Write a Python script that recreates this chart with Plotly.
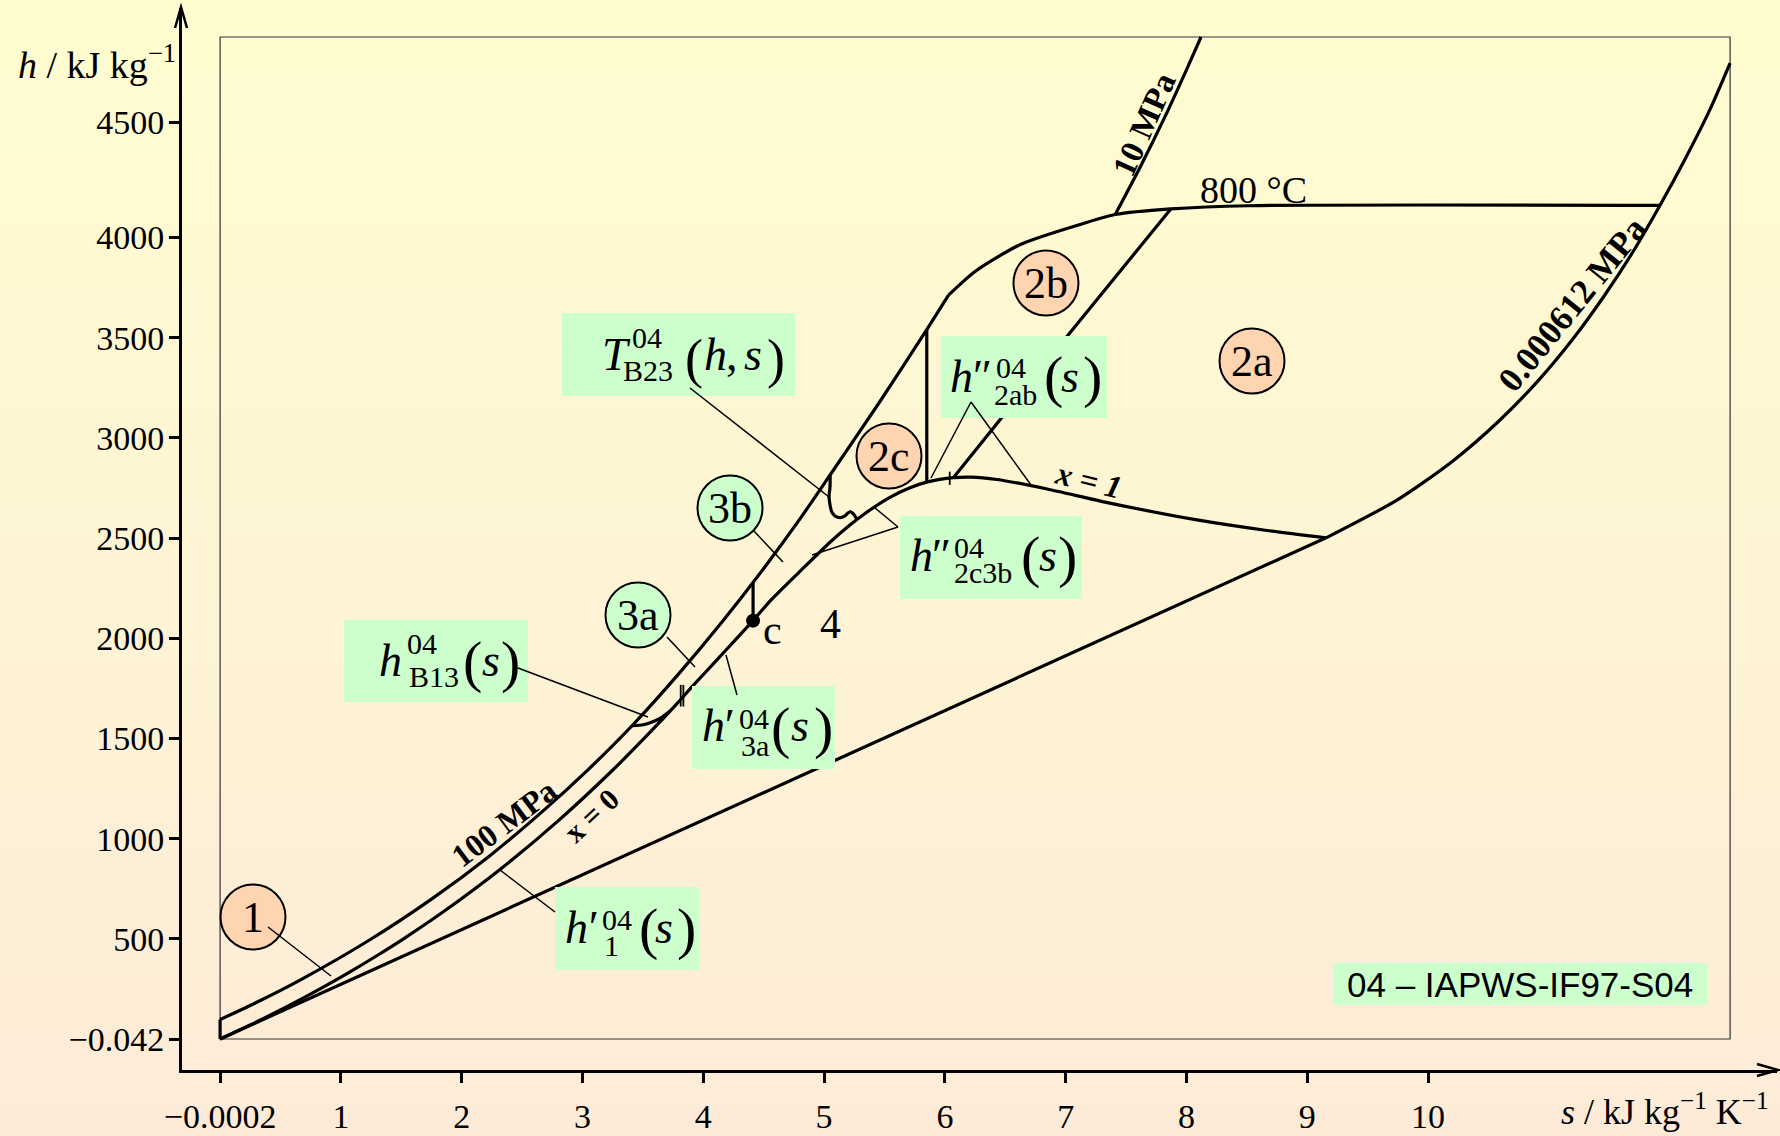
import plotly.graph_objects as go

# ---------------- data (s in kJ/(kg K), h in kJ/kg) ----------------
# saturated liquid line, x = 0
s_x0 = [0.0, 0.2965, 0.5724, 0.8312, 1.0754, 1.3069, 1.5279, 1.8418, 2.3305, 2.7935,
        3.2552, 3.5518, 3.7784, 3.9167, 4.1112, 4.26, 4.412]
h_x0 = [0.0, 83.9, 167.5, 251.2, 335.0, 419.2, 503.8, 632.2, 852.3, 1085.8,
        1344.8, 1525.9, 1671.0, 1764.2, 1890.7, 1988.0, 2087.5]
# saturated vapour line, x = 1
s_x1 = [4.412, 4.56, 4.80, 5.0536, 5.2112, 5.3357, 5.5373, 5.7059, 5.8571, 6.073,
        6.2139, 6.4302, 6.8371, 7.3545, 8.0748, 8.6661, 9.1556]
h_x1 = [2087.5, 2190.0, 2333.5, 2481.5, 2563.6, 2621.3, 2700.6, 2749.6, 2779.9, 2801.0,
        2804.0, 2792.0, 2745.9, 2675.6, 2591.3, 2537.4, 2500.9]
# 0.000612 MPa isobar (wet straight part, superheated part)
s_ptp_wet = [0.0, 9.1556]
h_ptp_wet = [0.0, 2500.9]
s_ptp_sup = [9.1556, 9.742, 10.20, 10.58, 10.91, 11.20, 11.46, 11.70, 11.92, 12.13, 12.33, 12.50]
h_ptp_sup = [2500.9, 2689, 2882, 3080, 3284, 3494, 3710, 3932, 4160, 4394, 4634, 4870]
# 100 MPa isobar
s_100 = [0.0, 0.279, 0.662, 1.237, 1.75, 2.223, 2.66, 3.045, 3.41, 3.798, 4.158, 4.494,
         4.809, 5.048, 5.45, 5.85, 6.03]
h_100 = [97, 176, 294, 494, 698, 910, 1131, 1343, 1563, 1823, 2083, 2343,
         2603, 2813, 3170, 3540, 3712]
# 0 degC boundary of region 1
s_t0 = [0.0, 0.0]
h_t0 = [0.0, 97.0]
# 800 degC isotherm
s_800 = [6.03, 6.25, 6.63, 7.147, 7.41, 7.87, 8.51, 11.92]
h_800 = [3712, 3830, 3966, 4069.8, 4114, 4142, 4158, 4160]
# 10 MPa isobar above 800 degC
s_10 = [7.41, 7.62, 7.82, 8.01, 8.12]
h_10 = [4114, 4355, 4600, 4850, 5000]
# boundary 2a/2b
s_2ab = [6.07, 6.99, 7.87]
h_2ab = [2801, 3490, 4142]
# boundary 2b/2c (s = 5.85)
s_2bc = [5.85, 5.85]
h_2bc = [2779, 3540]
# boundary 3a/3b (s = s_c)
s_3ab = [4.412, 4.412]
h_3ab = [2087.5, 2280]
# boundary B23 (wavy)
s_b23 = [5.05, 5.049, 5.041, 5.049, 5.063, 5.09, 5.132, 5.173, 5.20, 5.22, 5.242, 5.262, 5.275]
h_b23 = [2815, 2756, 2706, 2665, 2631, 2610, 2601, 2610, 2626, 2631, 2620, 2603, 2590]
# boundary B13
s_b13 = [3.41, 3.504, 3.587, 3.656, 3.725]
h_b13 = [1563, 1568, 1584, 1605, 1637]
# short marker ticks on the saturation line
mark_s = [3.813, 3.835, 6.04]
mark_h_lo = [1659, 1659, 2765]
mark_h_hi = [1767, 1767, 2831]
# critical point
s_crit = [4.412]
h_crit = [2087.5]

# axis ticks
x_tick_vals = [0, 1, 2, 3, 4, 5, 6, 7, 8, 9, 10]
x_tick_text = ["\u22120.0002", "1", "2", "3", "4", "5", "6", "7", "8", "9", "10"]
y_tick_vals = [0, 500, 1000, 1500, 2000, 2500, 3000, 3500, 4000, 4575]
y_tick_text = ["\u22120.042", "500", "1000", "1500", "2000", "2500", "3000", "3500", "4000", "4500"]

# ---------------- geometry ----------------
W, H = 1780, 1136
ML, MR, MT, MB = 182, 3, 8, 66
PX0, PXS = 220.1, 120.8      # pixel of s = 0, pixels per unit s
PY0, PYS = 1039.0, 0.2004    # pixel of h = 0, pixels per kJ/kg
XR = [(ML - PX0) / PXS, (W - MR - PX0) / PXS]
YR = [(PY0 - (H - MB)) / PYS, (PY0 - MT) / PYS]
PW, PH = W - ML - MR, H - MT - MB


def D(px, py):
    return ((px - PX0) / PXS, (PY0 - py) / PYS)


def PP(px, py):
    return ((px - ML) / PW, (H - MB - py) / PH)


SERIF = "Liberation Serif, Times New Roman, serif"
SANS = "Liberation Sans, Arial, sans-serif"
GREEN = "#CCFFCC"
ORANGE = "#FFD4B0"

fig = go.Figure()


def curve(s, h, spline=True, width=3.2):
    fig.add_trace(go.Scatter(
        x=s, y=h, mode="lines", hoverinfo="skip", showlegend=False,
        line=dict(color="black", width=width,
                  shape="spline" if spline else "linear", smoothing=0.7)))


curve(s_ptp_wet, h_ptp_wet, spline=False)
curve(s_ptp_sup, h_ptp_sup)
curve(s_x0, h_x0)
curve(s_x1, h_x1)
curve(s_100, h_100)
curve(s_t0, h_t0, spline=False)
curve(s_800, h_800)
curve(s_10, h_10)
curve(s_2ab, h_2ab)
curve(s_2bc, h_2bc, spline=False)
curve(s_3ab, h_3ab, spline=False)
curve(s_b23, h_b23)
curve(s_b13, h_b13)

mx, my = [], []
for s, a, b in zip(mark_s, mark_h_lo, mark_h_hi):
    mx += [s, s, None]
    my += [a, b, None]
fig.add_trace(go.Scatter(x=mx, y=my, mode="lines", hoverinfo="skip", showlegend=False,
                         line=dict(color="black", width=1.8)))
fig.add_trace(go.Scatter(x=s_crit, y=h_crit, mode="markers", hoverinfo="skip", showlegend=False,
                         marker=dict(color="black", size=14)))

# ---------------- background gradient ----------------
top_c, bot_c = (255, 253, 208), (253, 235, 216)
N = 80
for i in range(N):
    t = (i + 0.5) / N
    c = tuple(round(top_c[k] + (bot_c[k] - top_c[k]) * t) for k in range(3))
    y_top = i * H / N - 0.5
    y_bot = (i + 1) * H / N + 0.5
    x0p, y0p = PP(0, y_bot)
    x1p, y1p = PP(W, y_top)
    fig.add_shape(type="rect", xref="paper", yref="paper", x0=x0p, x1=x1p, y0=y0p, y1=y1p,
                  fillcolor="rgb(%d,%d,%d)" % c, line=dict(width=0), layer="below")

# inner frame
fig.add_shape(type="rect", xref="x", yref="y", x0=0, x1=12.5, y0=0, y1=5000,
              line=dict(color="#333333", width=1.2), layer="below")


def txt(px, py, text, size, anchor="center", angle=0, family=SERIF):
    x, y = D(px, py)
    fig.add_annotation(x=x, y=y, xref="x", yref="y", text=text, showarrow=False,
                       font=dict(family=family, size=size, color="black"),
                       xanchor=anchor, yanchor="middle", textangle=angle)


def box(px0, py0, px1, py1):
    x0, y0 = D(px0, py1)
    x1, y1 = D(px1, py0)
    fig.add_shape(type="rect", xref="x", yref="y", x0=x0, x1=x1, y0=y0, y1=y1,
                  fillcolor=GREEN, line=dict(width=0), layer="above")


def seg(p, q, width=1.5):
    x0, y0 = D(*p)
    x1, y1 = D(*q)
    fig.add_shape(type="line", xref="x", yref="y", x0=x0, y0=y0, x1=x1, y1=y1,
                  line=dict(color="black", width=width), layer="above")


def mathlabel(bx, by, bw, bh, pieces):
    box(bx, by, bx + bw, by + bh)
    for t, rx, rb, f, it in pieces:
        txt(bx + rx, by + rb - 0.34 * f, "<i>%s</i>" % t if it else t, f, anchor="left")


# ---------------- green formula labels ----------------
mathlabel(562, 313, 233, 83, [("T", 38, 57, 46, True), ("04", 68, 35, 30, False),
                              ("B23", 59, 68, 30, False), ("(", 121, 64, 54, False),
                              ("h", 140, 57, 46, True), (",", 162, 57, 46, False),
                              ("s", 180, 57, 46, True), (")", 203, 64, 54, False)])
mathlabel(941, 336, 166, 82, [("h", 7, 56, 46, True), ("\u2033", 27, 56, 46, True),
                              ("04", 53, 42, 30, False), ("2ab", 51, 69, 30, False),
                              ("(", 101, 60, 58, False), ("s", 118, 56, 46, True),
                              (")", 140, 60, 58, False)])
mathlabel(900, 516, 182, 83, [("h", 8, 55, 46, True), ("\u2033", 27, 55, 46, True),
                              ("04", 52, 42, 30, False), ("2c3b", 52, 67, 30, False),
                              ("(", 119, 60, 58, False), ("s", 137, 55, 46, True),
                              (")", 156, 60, 58, False)])
mathlabel(344, 620, 184, 82, [("h", 33, 56, 46, True), ("04", 61, 34, 30, False),
                              ("B13", 63, 67, 30, False), ("(", 117, 61, 58, False),
                              ("s", 136, 56, 46, True), (")", 155, 61, 58, False)])
mathlabel(692, 686, 143, 83, [("h", 8, 55, 46, True), ("\u2032", 28, 55, 46, True),
                              ("04", 45, 43, 30, False), ("3a", 47, 70, 30, False),
                              ("(", 77, 61, 58, False), ("s", 97, 55, 46, True),
                              (")", 120, 61, 58, False)])
mathlabel(555, 887, 145, 83, [("h", 8, 56, 46, True), ("\u2032", 29, 56, 46, True),
                              ("04", 45, 43, 30, False), ("1", 47, 69, 30, False),
                              ("(", 82, 61, 58, False), ("s", 98, 56, 46, True),
                              (")", 120, 61, 58, False)])

# note box
box(1333, 963, 1707, 1005)
txt(1520, 984, "04 \u2013 IAPWS-IF97-S04", 35, family=SANS)

# ---------------- region circles ----------------
circles = [("1", 253, 917, ORANGE), ("2a", 1252, 361, ORANGE), ("2b", 1046, 283, ORANGE),
           ("2c", 889, 456, ORANGE), ("3a", 638, 615, GREEN), ("3b", 730, 508, GREEN)]
for lab, cx, cy, col in circles:
    x, y = D(cx, cy)
    fig.add_shape(type="circle", xref="x", yref="y", xsizemode="pixel", ysizemode="pixel",
                  xanchor=x, yanchor=y, x0=-32.5, x1=32.5, y0=-32.5, y1=32.5,
                  fillcolor=col, line=dict(color="black", width=2), layer="above")
    txt(cx, cy, lab, 44)

# ---------------- pointer lines ----------------
seg((268, 927), (331, 976))
seg((667, 637), (695, 667))
seg((753, 530), (783, 562))
seg((690, 388), (829, 497))
seg((971, 402), (931, 478))
seg((971, 402), (1031, 485))
seg((898, 527), (875, 508))
seg((898, 527), (812, 555))
seg((518, 668), (648, 717))
seg((737, 695), (726, 655))
seg((555, 912), (500, 870))

# ---------------- curve labels ----------------
txt(504, 823, "<b>100 MPa</b>", 32, angle=-37)
txt(591, 815, "<b>x = 0</b>", 30, angle=-43)
txt(1088, 480, "<b><i>x = 1</i></b>", 32, angle=14)
txt(1144, 125, "<b>10 MPa</b>", 33, angle=-66)
txt(1253, 190, "800 \u00b0C", 38)
txt(1572, 304, "<b>0.000612 MPa</b>", 35, angle=-51)
txt(772, 630, "c", 42)
txt(830, 624, "4", 42)

# ---------------- axis titles and arrows ----------------
yx, yy = PP(178, 62)
fig.add_annotation(x=yx, y=yy, xref="paper", yref="paper", showarrow=False,
                   text="<i>h</i> / kJ kg<sup>\u22121</sup>", xanchor="right", yanchor="middle",
                   font=dict(family=SERIF, size=38, color="black"))
xx, xy = PP(1771, 1109)
fig.add_annotation(x=xx, y=xy, xref="paper", yref="paper", showarrow=False,
                   text="<i>s</i> / kJ kg<sup>\u22121</sup> K<sup>\u22121</sup>",
                   xanchor="right", yanchor="middle",
                   font=dict(family=SERIF, size=36, color="black"))


def arrow(pts):
    path = ""
    for k, (px, py) in enumerate(pts):
        x, y = PP(px, py)
        path += ("M" if k == 0 else "L") + " %f %f " % (x, y)
    fig.add_shape(type="path", xref="paper", yref="paper", path=path,
                  line=dict(color="black", width=2.5), layer="above")


arrow([(175, 28), (181, 7), (187, 28)])
arrow([(1757, 1064), (1778, 1070), (1757, 1076)])

fig.update_layout(
    width=W, height=H, margin=dict(l=ML, r=MR, t=MT, b=MB, pad=0, autoexpand=False),
    paper_bgcolor="rgb(254,244,212)", plot_bgcolor="rgba(0,0,0,0)",
    showlegend=False,
    xaxis=dict(range=XR, showgrid=False, zeroline=False, showline=True, linecolor="black",
               linewidth=3, ticks="outside", ticklen=10, tickwidth=3, tickcolor="black",
               tickvals=x_tick_vals, ticktext=x_tick_text, ticklabelstandoff=4,
               automargin=False,
               tickfont=dict(family=SERIF, size=34, color="black"), fixedrange=True),
    yaxis=dict(range=YR, showgrid=False, zeroline=False, showline=True, linecolor="black",
               linewidth=3, ticks="outside", ticklen=10, tickwidth=3, tickcolor="black",
               tickvals=y_tick_vals, ticktext=y_tick_text, ticklabelstandoff=-2,
               automargin=False,
               tickfont=dict(family=SERIF, size=34, color="black"), fixedrange=True),
)

fig.write_html(
    "out.html",
    config={"displayModeBar": False},
    post_script="document.body.style.margin='0px';document.body.style.padding='0px';"
                "document.body.style.overflow='hidden';",
)
